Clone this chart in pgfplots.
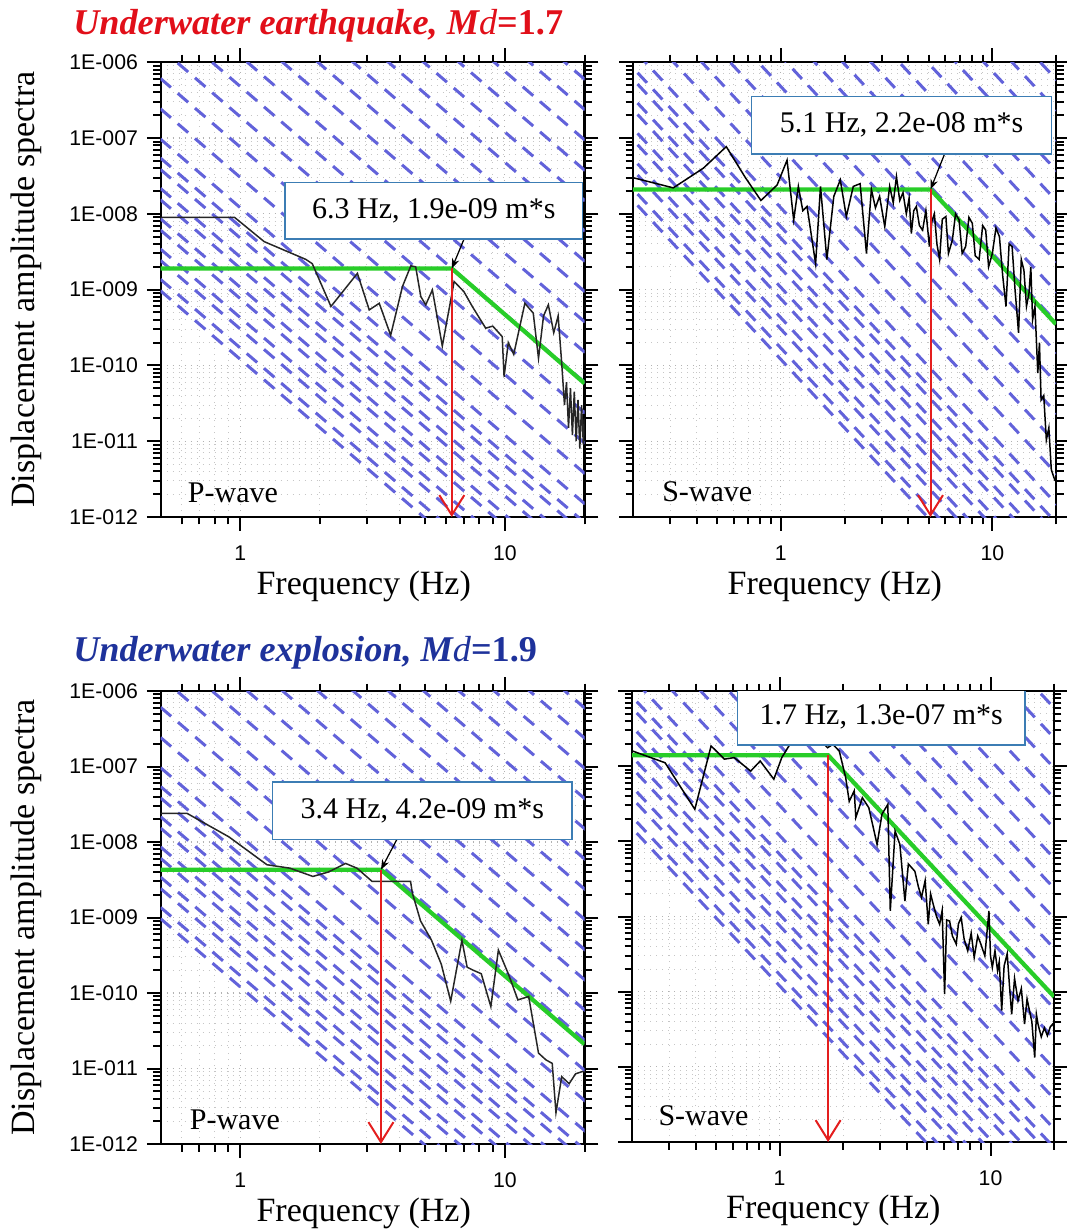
\documentclass[border=0pt]{standalone}
\usepackage{fontspec}
\setmainfont{Liberation Serif}
\setsansfont{Liberation Sans}
\usepackage{pgfplots}
\pgfplotsset{compat=1.18}
\usetikzlibrary{arrows.meta}

\definecolor{hatch}{RGB}{98,98,218}
\definecolor{fitgreen}{RGB}{40,205,40}
\definecolor{boxblue}{RGB}{60,125,180}
\definecolor{titlered}{RGB}{225,15,25}
\definecolor{titleblue}{RGB}{30,50,155}
\definecolor{arrowred}{RGB}{228,30,30}

\tikzset{
  hatchline/.style={color=hatch, line width=1.2pt, dash pattern=on 5.5pt off 3.6pt},
  fitline/.style={color=fitgreen, line width=1.7pt},
  spectrum/.style={color=black!85, line width=0.6pt},
  redarrow/.style={color=arrowred, line width=0.8pt, -{Straight Barb[length=8pt,width=10pt]}},
  leader/.style={black, line width=0.5pt, -{Stealth[length=4pt,width=3pt]}},
  annbox/.style={draw=boxblue, line width=0.6pt, fill=white, inner sep=0pt,
    font=\fontsize{12}{14}\selectfont},
  wavelab/.style={anchor=base west, inner sep=0pt, font=\fontsize{12}{14}\selectfont},
}

\newcommand{\stresslines}{%
\addplot[hatchline] coordinates {(0.15,3.556e-8) (25,7.691e-15)};
\addplot[hatchline] coordinates {(0.15,8.93e-8) (25,1.932e-14)};
\addplot[hatchline] coordinates {(0.15,2.244e-7) (25,4.853e-14)};
\addplot[hatchline] coordinates {(0.15,5.636e-7) (25,1.219e-13)};
\addplot[hatchline] coordinates {(0.15,1.416e-6) (25,3.062e-13)};
\addplot[hatchline] coordinates {(0.15,3.556e-6) (25,7.691e-13)};
\addplot[hatchline] coordinates {(0.15,8.93e-6) (25,1.932e-12)};
\addplot[hatchline] coordinates {(0.15,2.244e-5) (25,4.853e-12)};
\addplot[hatchline] coordinates {(0.15,5.636e-5) (25,1.219e-11)};
\addplot[hatchline] coordinates {(0.15,1.416e-4) (25,3.062e-11)};
\addplot[hatchline] coordinates {(0.15,3.556e-4) (25,7.691e-11)};
\addplot[hatchline] coordinates {(0.15,8.93e-4) (25,1.932e-10)};
\addplot[hatchline] coordinates {(0.15,2.244e-3) (25,4.853e-10)};
\addplot[hatchline] coordinates {(0.15,5.636e-3) (25,1.219e-9)};
\addplot[hatchline] coordinates {(0.15,1.416e-2) (25,3.062e-9)};
\addplot[hatchline] coordinates {(0.15,3.556e-2) (25,7.691e-9)};
\addplot[hatchline] coordinates {(0.15,8.93e-2) (25,1.932e-8)};
\addplot[hatchline] coordinates {(0.15,0.2244) (25,4.853e-8)};
\addplot[hatchline] coordinates {(0.15,0.5636) (25,1.219e-7)};
\addplot[hatchline] coordinates {(0.15,1.416) (25,3.062e-7)};
\addplot[hatchline] coordinates {(0.15,5.023e-8) (25,1.086e-14)};
\addplot[hatchline] coordinates {(0.15,1.262e-7) (25,2.729e-14)};
\addplot[hatchline] coordinates {(0.15,3.170e-7) (25,6.855e-14)};
\addplot[hatchline] coordinates {(0.15,7.962e-7) (25,1.722e-13)};
\addplot[hatchline] coordinates {(0.15,2.000e-6) (25,4.325e-13)};
}

\begin{document}
\begin{tikzpicture}
\useasboundingbox (0,0) rectangle (426.4pt,492pt);

\node[anchor=base west, inner sep=0pt, text=titlered, font=\fontsize{14.5}{17}\selectfont]
  at (29.1pt,478pt) {\bfseries\itshape Underwater earthquake, M{\mdseries d}\upshape=1.7};
\node[anchor=base west, inner sep=0pt, text=titleblue, font=\fontsize{14.5}{17}\selectfont]
  at (29.1pt,227.3pt) {\bfseries\itshape Underwater explosion, M{\mdseries d}\upshape=1.9};

% ---------------- top left: earthquake P-wave
\begin{axis}[scale only axis, xmode=log, ymode=log,
    at={(64.3pt,285.2pt)}, anchor=south west, width=169.5pt, height=181.9pt,
    xmin=0.5, xmax=20, ymin=1e-12, ymax=1e-6,
    axis line style={line width=0.9pt},
    tick style={line width=0.8pt, black},
    tick align=outside, major tick length=5.6pt, minor tick length=3pt,
    xtick pos=both, ytick pos=both,
    xtick={1,10}, xticklabels={1,10},
    minor xtick={0.6,0.7,0.8,0.9,2,3,4,5,6,7,8,9,20},
    ytick={1e-12,1e-11,1e-10,1e-9,1e-8,1e-7,1e-6},
    yticklabels={1E-012,1E-011,1E-010,1E-009,1E-008,1E-007,1E-006},
    minor ytick={2e-12,3e-12,4e-12,5e-12,6e-12,7e-12,8e-12,9e-12,2e-11,3e-11,4e-11,5e-11,6e-11,7e-11,8e-11,9e-11,2e-10,3e-10,4e-10,5e-10,6e-10,7e-10,8e-10,9e-10,2e-9,3e-9,4e-9,5e-9,6e-9,7e-9,8e-9,9e-9,2e-8,3e-8,4e-8,5e-8,6e-8,7e-8,8e-8,9e-8,2e-7,3e-7,4e-7,5e-7,6e-7,7e-7,8e-7,9e-7},
    grid=both,
    major grid style={gray!60, dotted, line width=0.45pt},
    minor grid style={gray!45, dotted, line width=0.4pt},
    tick label style={font=\sffamily\fontsize{8.5}{10}\selectfont},
    xticklabel style={yshift=-2.5pt},
    xlabel={Frequency (Hz)},
    xlabel style={at={(axis description cs:0.479,-0.17)}, anchor=base, font=\fontsize{13.6}{16}\selectfont},
    ylabel={Displacement amplitude spectra},
    ylabel style={at={(axis description cs:-0.298,0.5)}, anchor=base, font=\fontsize{13.6}{16}\selectfont},
]
\stresslines
\addplot[fitline] coordinates {(0.5,1.9e-9) (6.3,1.9e-9) (20,5.8e-11)};
\addplot[spectrum] coordinates {
(0.5,9.0e-9) (0.95,9.0e-9) (1.23,4.3e-9) (1.77,2.5e-9) (1.87,2.2e-9) (2.20,6.0e-10)
(2.77,1.64e-9) (3.07,5.4e-10) (3.35,6.6e-10) (3.70,2.5e-10) (4.10,1.1e-9) (4.41,2.06e-9)
(4.60,2.0e-9) (4.81,8.1e-10) (5.02,6.3e-10) (5.32,9.9e-10) (5.80,1.8e-10) (6.43,1.28e-9)
(7.00,9.4e-10) (7.53,6.0e-10) (8.46,3.1e-10) (9.00,3.3e-10) (9.77,2.4e-10) (9.93,7.1e-11)
(10.3,2.0e-10) (10.8,1.4e-10) (11.9,6.6e-10) (12.8,4.9e-10) (13.4,1.24e-10) (14.0,4.5e-10)
(14.6,6.3e-10) (15.3,2.7e-10) (15.9,4.5e-10) (16.4,1.07e-10) (16.8,3.0e-11) (17.1,6.0e-11)
(17.4,1.5e-11) (17.7,5.0e-11) (18.0,1.2e-11) (18.3,4.5e-11) (18.6,1.0e-11) (18.9,3.5e-11)
(19.2,8.0e-12) (19.5,3.0e-11) (19.8,9.0e-12) (20,2.0e-11)};
\addplot[redarrow] coordinates {(6.3,1.9e-9) (6.3,1e-12)};
\draw[leader] (axis cs:7.0,4.6e-9) -- (axis cs:6.3,1.9e-9);
\node[annbox, minimum width=119pt, minimum height=22.6pt] at (axis description cs:0.6444,0.673) {6.3 Hz, 1.9e-09 m*s};
\node[wavelab] at (axis description cs:0.063,0.031) {P-wave};
\end{axis}

% ---------------- top right: earthquake S-wave
\begin{axis}[scale only axis, xmode=log, ymode=log,
    at={(253.2pt,285.2pt)}, anchor=south west, width=169.2pt, height=181.9pt,
    xmin=0.2, xmax=20, ymin=1e-12, ymax=1e-6,
    axis line style={line width=0.9pt},
    tick style={line width=0.8pt, black},
    tick align=outside, major tick length=5.6pt, minor tick length=3pt,
    xtick pos=both, ytick pos=both,
    xtick={1,10}, xticklabels={1,10},
    minor xtick={0.3,0.4,0.5,0.6,0.7,0.8,0.9,2,3,4,5,6,7,8,9,20},
    ytick={1e-12,1e-11,1e-10,1e-9,1e-8,1e-7,1e-6},
    yticklabels={,,,,,,},
    minor ytick={2e-12,3e-12,4e-12,5e-12,6e-12,7e-12,8e-12,9e-12,2e-11,3e-11,4e-11,5e-11,6e-11,7e-11,8e-11,9e-11,2e-10,3e-10,4e-10,5e-10,6e-10,7e-10,8e-10,9e-10,2e-9,3e-9,4e-9,5e-9,6e-9,7e-9,8e-9,9e-9,2e-8,3e-8,4e-8,5e-8,6e-8,7e-8,8e-8,9e-8,2e-7,3e-7,4e-7,5e-7,6e-7,7e-7,8e-7,9e-7},
    grid=both,
    major grid style={gray!60, dotted, line width=0.45pt},
    minor grid style={gray!45, dotted, line width=0.4pt},
    tick label style={font=\sffamily\fontsize{8.5}{10}\selectfont},
    xticklabel style={yshift=-2.5pt},
    xlabel={Frequency (Hz)},
    xlabel style={at={(axis description cs:0.477,-0.17)}, anchor=base, font=\fontsize{13.6}{16}\selectfont},
]
\stresslines
\addplot[fitline] coordinates {(0.2,2.1e-8) (5.1,2.1e-8) (20,3.5e-10)};
\addplot[spectrum, color=black] coordinates {
(0.2,3.0e-8) (0.31,2.2e-8) (0.43,4.0e-8) (0.552,7.7e-8) (0.68,3.0e-8) (0.805,1.5e-8)
(0.96,2.4e-8) (1.07,5.1e-8) (1.15,8.3e-9) (1.21,2.3e-8) (1.27,1.1e-8) (1.33,1.25e-8)
(1.46,2.2e-9) (1.54,2.3e-8) (1.65,2.5e-9) (1.78,1.7e-8) (1.91,2.8e-8) (2.04,9.2e-9)
(2.2,2.3e-8) (2.37,2.5e-8) (2.54,3.0e-9) (2.68,2.1e-8) (2.8,1.2e-8) (2.93,1.7e-8)
(3.10,6.8e-9) (3.27,2.3e-8) (3.4,1.4e-8) (3.52,3.1e-8) (3.65,1.5e-8) (3.78,1.9e-8)
(3.92,1.0e-8) (4.04,1.6e-8) (4.14,5.5e-9) (4.25,1.1e-8) (4.37,1.25e-8) (4.52,7.0e-9)
(4.68,6.1e-9) (4.85,1.1e-8) (5.04,3.7e-9) (5.18,8.0e-9) (5.32,1.0e-8) (5.47,4.0e-9)
(5.63,2.5e-9) (5.8,8.5e-9) (6.03,9.2e-9) (6.2,3.0e-9) (6.47,4.5e-9) (6.7,1.0e-8)
(6.96,8.3e-9) (7.2,3.0e-9) (7.48,3.7e-9) (7.75,9.0e-9) (8.04,7.5e-9) (8.3,2.8e-9)
(8.66,2.5e-9) (9.0,7.0e-9) (9.3,6.1e-9) (9.6,2.0e-9) (10.0,3.0e-9) (10.4,6.5e-9)
(10.8,5.0e-9) (11.2,1.5e-9) (11.6,6.0e-10) (12.0,4.0e-9) (12.4,3.7e-9) (12.8,1.0e-9)
(13.3,2.7e-10) (13.7,2.5e-9) (14.1,1.8e-9) (14.5,6.0e-10) (14.9,9.0e-10) (15.2,2.0e-9)
(15.5,4.0e-10) (15.9,6.0e-10) (16.4,7.9e-11) (16.7,2.0e-10) (17.0,3.5e-11) (17.5,4.0e-11)
(18.0,1.04e-11) (18.5,1.5e-11) (19.0,4.2e-12) (19.8,3.0e-12)};
\addplot[redarrow] coordinates {(5.1,2.1e-8) (5.1,1e-12)};
\draw[leader] (axis cs:5.95,6.2e-8) -- (axis cs:5.1,2.1e-8);
\node[annbox, minimum width=120pt, minimum height=22.9pt] at (axis description cs:0.635,0.8613) {5.1 Hz, 2.2e-08 m*s};
\node[wavelab] at (axis description cs:0.068,0.034) {S-wave};
\end{axis}

% ---------------- bottom left: explosion P-wave
\begin{axis}[scale only axis, xmode=log, ymode=log,
    at={(64.3pt,34.4pt)}, anchor=south west, width=169.5pt, height=181.2pt,
    xmin=0.5, xmax=20, ymin=1e-12, ymax=1e-6,
    axis line style={line width=0.9pt},
    tick style={line width=0.8pt, black},
    tick align=outside, major tick length=5.6pt, minor tick length=3pt,
    xtick pos=both, ytick pos=both,
    xtick={1,10}, xticklabels={1,10},
    minor xtick={0.6,0.7,0.8,0.9,2,3,4,5,6,7,8,9,20},
    ytick={1e-12,1e-11,1e-10,1e-9,1e-8,1e-7,1e-6},
    yticklabels={1E-012,1E-011,1E-010,1E-009,1E-008,1E-007,1E-006},
    minor ytick={2e-12,3e-12,4e-12,5e-12,6e-12,7e-12,8e-12,9e-12,2e-11,3e-11,4e-11,5e-11,6e-11,7e-11,8e-11,9e-11,2e-10,3e-10,4e-10,5e-10,6e-10,7e-10,8e-10,9e-10,2e-9,3e-9,4e-9,5e-9,6e-9,7e-9,8e-9,9e-9,2e-8,3e-8,4e-8,5e-8,6e-8,7e-8,8e-8,9e-8,2e-7,3e-7,4e-7,5e-7,6e-7,7e-7,8e-7,9e-7},
    grid=both,
    major grid style={gray!60, dotted, line width=0.45pt},
    minor grid style={gray!45, dotted, line width=0.4pt},
    tick label style={font=\sffamily\fontsize{8.5}{10}\selectfont},
    xticklabel style={yshift=-2.5pt},
    xlabel={Frequency (Hz)},
    xlabel style={at={(axis description cs:0.479,-0.17)}, anchor=base, font=\fontsize{13.6}{16}\selectfont},
    ylabel={Displacement amplitude spectra},
    ylabel style={at={(axis description cs:-0.298,0.5)}, anchor=base, font=\fontsize{13.6}{16}\selectfont},
]
\stresslines
\addplot[fitline] coordinates {(0.5,4.3e-9) (3.4,4.3e-9) (20,2.1e-11)};
\addplot[spectrum] coordinates {
(0.5,2.4e-8) (0.628,2.4e-8) (0.905,1.17e-8) (1.26,5.0e-9) (1.54,4.5e-9) (1.88,3.5e-9)
(2.15,4.0e-9) (2.5,5.2e-9) (2.76,4.5e-9) (3.15,3.0e-9) (4.4,3.0e-9) (4.47,2.1e-9)
(4.8,9.0e-10) (5.28,5.0e-10) (5.75,2.4e-10) (6.24,7.8e-11) (6.88,5.0e-10) (7.2,2.2e-10)
(7.6,2.0e-10) (8.14,1.8e-10) (8.85,6.6e-11) (9.45,3.7e-10) (10.3,1.8e-10) (11.2,8.1e-11)
(12.3,9.0e-11) (13.4,1.6e-11) (14.3,1.3e-11) (15.1,1.17e-11) (15.6,2.6e-12) (16.4,7.8e-12)
(17.5,6.3e-12) (18.5,8.5e-12) (19.6,9.1e-12) (20,9.1e-12)};
\addplot[redarrow] coordinates {(3.4,4.3e-9) (3.4,1e-12)};
\draw[leader] (axis cs:3.91,1.09e-8) -- (axis cs:3.4,4.3e-9);
\node[annbox, minimum width=119.8pt, minimum height=23pt] at (axis description cs:0.6173,0.7362) {3.4 Hz, 4.2e-09 m*s};
\node[wavelab] at (axis description cs:0.0675,0.031) {P-wave};
\end{axis}

% ---------------- bottom right: explosion S-wave
\begin{axis}[scale only axis, xmode=log, ymode=log,
    at={(252.8pt,35.2pt)}, anchor=south west, width=168.8pt, height=180.4pt,
    xmin=0.2, xmax=20, ymin=1e-12, ymax=1e-6,
    axis line style={line width=0.9pt},
    tick style={line width=0.8pt, black},
    tick align=outside, major tick length=5.6pt, minor tick length=3pt,
    xtick pos=both, ytick pos=both,
    xtick={1,10}, xticklabels={1,10},
    minor xtick={0.3,0.4,0.5,0.6,0.7,0.8,0.9,2,3,4,5,6,7,8,9,20},
    ytick={1e-12,1e-11,1e-10,1e-9,1e-8,1e-7,1e-6},
    yticklabels={,,,,,,},
    minor ytick={2e-12,3e-12,4e-12,5e-12,6e-12,7e-12,8e-12,9e-12,2e-11,3e-11,4e-11,5e-11,6e-11,7e-11,8e-11,9e-11,2e-10,3e-10,4e-10,5e-10,6e-10,7e-10,8e-10,9e-10,2e-9,3e-9,4e-9,5e-9,6e-9,7e-9,8e-9,9e-9,2e-8,3e-8,4e-8,5e-8,6e-8,7e-8,8e-8,9e-8,2e-7,3e-7,4e-7,5e-7,6e-7,7e-7,8e-7,9e-7},
    grid=both,
    major grid style={gray!60, dotted, line width=0.45pt},
    minor grid style={gray!45, dotted, line width=0.4pt},
    tick label style={font=\sffamily\fontsize{8.5}{10}\selectfont},
    xticklabel style={yshift=-2.5pt},
    xlabel={Frequency (Hz)},
    xlabel style={at={(axis description cs:0.477,-0.17)}, anchor=base, font=\fontsize{13.6}{16}\selectfont},
]
\stresslines
\addplot[fitline] coordinates {(0.2,1.4e-7) (1.7,1.4e-7) (20,8.6e-11)};
\addplot[spectrum, color=black] coordinates {
(0.2,1.6e-7) (0.287,1.11e-7) (0.397,2.67e-8) (0.474,1.86e-7) (0.548,1.24e-7) (0.61,1.3e-7)
(0.73,8.6e-8) (0.81,1.17e-7) (0.94,6.7e-8) (1.025,1.3e-7) (1.12,1.95e-7) (1.16,2.65e-7)
(1.3,3.0e-7) (1.5,2.5e-7) (1.69,1.76e-7) (1.79,1.95e-7) (1.92,1.59e-7) (2.06,7.0e-8)
(2.14,3.4e-8) (2.26,4.7e-8) (2.3,2.07e-8) (2.47,3.8e-8) (2.65,2.8e-8) (2.9,9.1e-9)
(3.06,2.3e-8) (3.26,3.1e-8) (3.35,1.19e-9) (3.53,1.37e-8) (3.72,9.1e-9) (3.93,1.6e-9)
(4.08,5.0e-9) (4.38,4.0e-9) (4.55,2.5e-9) (4.71,1.8e-9) (4.9,3.0e-9) (5.07,7.9e-10)
(5.2,2.0e-9) (5.35,1.46e-9) (5.55,1.0e-9) (5.74,7.9e-10) (5.9,1.2e-9) (6.06,9.3e-11)
(6.2,9.0e-10) (6.4,8.7e-10) (6.6,5.5e-10) (6.88,4.3e-10) (7.05,8.0e-10) (7.26,9.7e-10)
(7.5,5.0e-10) (7.8,3.5e-10) (8.1,6.0e-10) (8.37,2.85e-10) (8.7,5.5e-10) (9.0,4.3e-10)
(9.4,3.0e-10) (9.83,1.19e-9) (10.0,3.0e-10) (10.2,2.1e-10) (10.5,3.5e-10) (10.8,1.9e-10)
(11.0,2.5e-10) (11.3,5.6e-11) (11.6,2.2e-10) (12.0,3.2e-10) (12.3,1.2e-10) (12.6,5.0e-11)
(13.0,1.5e-10) (13.5,7.6e-11) (14.0,1.1e-10) (14.5,3.7e-11) (14.9,8.0e-11) (15.3,5.6e-11)
(15.7,4.0e-11) (16.2,1.33e-11) (16.5,5.0e-11) (16.8,3.7e-11) (17.4,2.5e-11) (18.0,3.3e-11)
(18.6,2.6e-11) (19.2,3.4e-11) (19.7,3.7e-11) (20,3.4e-11)};
\addplot[redarrow] coordinates {(1.7,1.4e-7) (1.7,1e-12)};
\node[annbox, minimum width=115pt, minimum height=22.7pt] at (axis description cs:0.5905,0.943) {1.7 Hz, 1.3e-07 m*s};
\node[wavelab] at (axis description cs:0.0616,0.0377) {S-wave};
\end{axis}
\end{tikzpicture}
\end{document}
